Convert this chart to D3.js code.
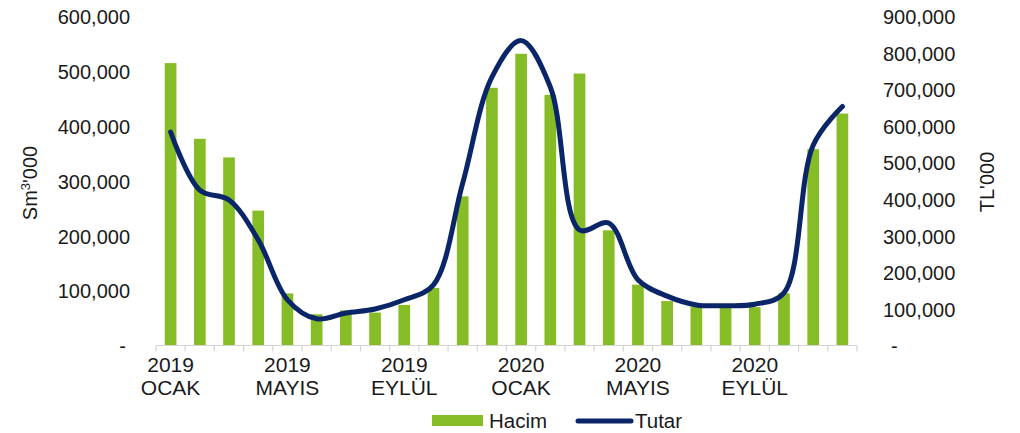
<!DOCTYPE html>
<html>
<head>
<meta charset="utf-8">
<script src="https://cdn.jsdelivr.net/npm/d3@7/dist/d3.min.js"></script>
<style>
  html, body { margin: 0; padding: 0; background: #fff; }
  svg { display: block; font-family: "Liberation Sans", Arial, sans-serif; }
</style>
</head>
<body>
<svg id="chart" width="1020" height="433"></svg>
<script>
// Monthly data, January 2019 – December 2020
const months = [
  "2019-01","2019-02","2019-03","2019-04","2019-05","2019-06",
  "2019-07","2019-08","2019-09","2019-10","2019-11","2019-12",
  "2020-01","2020-02","2020-03","2020-04","2020-05","2020-06",
  "2020-07","2020-08","2020-09","2020-10","2020-11","2020-12"
];
// Hacim (Sm³'000) – bars, left axis
const hacim = [
  515000, 377000, 343000, 246000, 95000, 57000,
  64000, 60000, 74000, 105000, 272000, 470000,
  532000, 457000, 496000, 210000, 111000, 81000,
  71000, 71000, 70000, 95000, 358000, 423000
];
// Tutar (TL'000) – line, right axis
const tutar = [
  584000, 425000, 398000, 289000, 125000, 73000,
  89000, 100000, 125000, 166000, 444000, 734000,
  834000, 707000, 316000, 335000, 180000, 135000,
  111000, 109000, 113000, 144000, 548000, 654000
];
// Category labels shown every fourth month
const xLabels = [
  { month: "2019-01", year: "2019", name: "OCAK" },
  { month: "2019-05", year: "2019", name: "MAYIS" },
  { month: "2019-09", year: "2019", name: "EYLÜL" },
  { month: "2020-01", year: "2020", name: "OCAK" },
  { month: "2020-05", year: "2020", name: "MAYIS" },
  { month: "2020-09", year: "2020", name: "EYLÜL" }
];
const leftTicks = [0, 100000, 200000, 300000, 400000, 500000, 600000];
const rightTicks = [0, 100000, 200000, 300000, 400000, 500000, 600000, 700000, 800000, 900000];

const svg = d3.select("#chart");
const fmt = d3.format(",");
const tickFmt = v => v === 0 ? "-" : fmt(v);

const plot = { left: 156, right: 857, top: 16.5, bottom: 345.5 };

const x = d3.scaleBand()
  .domain(months)
  .range([plot.left, plot.right])
  .paddingInner(0.6)
  .paddingOuter(0.3);

const yL = d3.scaleLinear().domain([0, 600000]).range([plot.bottom, plot.top]);
const yR = d3.scaleLinear().domain([0, 900000]).range([plot.bottom, plot.top]);

const barColor = "#86bc25";
const lineColor = "#0b2569";
const textColor = "#1a1a1a";

// Bars
svg.append("g")
  .selectAll("rect")
  .data(months)
  .join("rect")
  .attr("x", d => x(d))
  .attr("width", x.bandwidth())
  .attr("y", (d, i) => yL(hacim[i]))
  .attr("height", (d, i) => yL(0) - yL(hacim[i]))
  .attr("fill", barColor);

// X axis line with tick marks at category boundaries
const step = x.step();
const xAxis = svg.append("g").attr("stroke", "#d4d4d4").attr("stroke-width", 1.2);
xAxis.append("line")
  .attr("x1", plot.left).attr("x2", plot.right)
  .attr("y1", plot.bottom).attr("y2", plot.bottom);
xAxis.selectAll("line.tick")
  .data(d3.range(months.length + 1))
  .join("line")
  .attr("class", "tick")
  .attr("x1", i => plot.left + i * step).attr("x2", i => plot.left + i * step)
  .attr("y1", plot.bottom).attr("y2", plot.bottom + 6);

// X labels (year / month name)
const xl = svg.append("g")
  .attr("font-size", 21)
  .attr("fill", textColor)
  .attr("text-anchor", "middle");
xl.selectAll("text.year")
  .data(xLabels)
  .join("text")
  .attr("class", "year")
  .attr("x", d => x(d.month) + x.bandwidth() / 2)
  .attr("y", 371.5)
  .text(d => d.year);
xl.selectAll("text.name")
  .data(xLabels)
  .join("text")
  .attr("class", "name")
  .attr("x", d => x(d.month) + x.bandwidth() / 2)
  .attr("y", 394.5)
  .text(d => d.name);

// Left axis
const gL = svg.append("g")
  .attr("transform", `translate(${plot.left - 26},0)`)
  .call(d3.axisLeft(yL).tickValues(leftTicks).tickFormat(tickFmt).tickSize(0).tickPadding(0));
gL.select(".domain").remove();
gL.selectAll("text")
  .attr("font-size", 20)
  .attr("font-family", "Liberation Sans, Arial, sans-serif")
  .attr("fill", textColor)
  .attr("dy", "0.36em");
gL.selectAll(".tick").filter(d => d === 0).select("text").attr("x", -4);

// Right axis
const gR = svg.append("g")
  .attr("transform", `translate(${plot.right + 26},0)`)
  .call(d3.axisRight(yR).tickValues(rightTicks).tickFormat(tickFmt).tickSize(0).tickPadding(0));
gR.select(".domain").remove();
gR.selectAll("text")
  .attr("font-size", 20)
  .attr("font-family", "Liberation Sans, Arial, sans-serif")
  .attr("fill", textColor)
  .attr("dy", "0.36em");
gR.selectAll(".tick").filter(d => d === 0).select("text").attr("x", 8);

// Axis titles
const tl = svg.append("text")
  .attr("transform", "translate(37,183) rotate(-90)")
  .attr("text-anchor", "middle")
  .attr("font-size", 20)
  .attr("fill", textColor);
tl.append("tspan").text("Sm");
tl.append("tspan").attr("font-size", 13).attr("dy", -7).text("3");
tl.append("tspan").attr("dy", 7).text("'000");

svg.append("text")
  .attr("transform", "translate(994,182) rotate(-90)")
  .attr("text-anchor", "middle")
  .attr("font-size", 20)
  .attr("fill", textColor)
  .text("TL'000");

// Tutar line
const line = d3.line()
  .x((d, i) => x(months[i]) + x.bandwidth() / 2)
  .y(d => yR(d))
  .curve(d3.curveCatmullRom.alpha(0.5));
svg.append("path")
  .datum(tutar)
  .attr("d", line)
  .attr("fill", "none")
  .attr("stroke", lineColor)
  .attr("stroke-width", 5)
  .attr("stroke-linecap", "round")
  .attr("stroke-linejoin", "round");

// Legend
const lg = svg.append("g").attr("font-size", 20.5).attr("fill", textColor);
lg.append("rect").attr("x", 432).attr("y", 415).attr("width", 51).attr("height", 11).attr("fill", barColor);
lg.append("text").attr("x", 489).attr("y", 427.5).text("Hacim");
lg.append("line")
  .attr("x1", 578).attr("x2", 631).attr("y1", 421).attr("y2", 421)
  .attr("stroke", lineColor).attr("stroke-width", 5).attr("stroke-linecap", "round");
lg.append("text").attr("x", 635).attr("y", 427.5).text("Tutar");
</script>
</body>
</html>
